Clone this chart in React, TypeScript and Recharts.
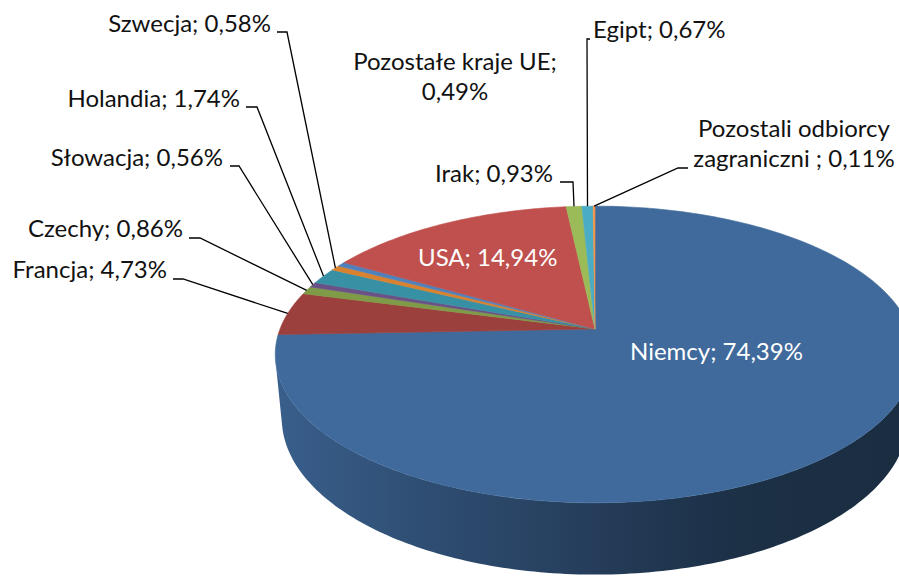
import { PieChart, Pie } from 'recharts';

const countries = [
  'Niemcy', 'Francja', 'Czechy', 'Słowacja', 'Holandia', 'Szwecja',
  'Pozostałe kraje UE', 'USA', 'Irak', 'Egipt', 'Pozostali odbiorcy zagraniczni ',
];
const shares = [74.39, 4.73, 0.86, 0.56, 1.74, 0.58, 0.49, 14.94, 0.93, 0.67, 0.11];
const sliceColors = [
  '#3F6A9B', '#9C403D', '#7F9B48', '#6A5286', '#3890A5', '#D8822F',
  '#4F81BD', '#C0504D', '#9BBB59', '#4BACC6', '#F79646',
];
const labelLines: string[][] = [
  ['Niemcy; 74,39%'],
  ['Francja; 4,73%'],
  ['Czechy; 0,86%'],
  ['Słowacja; 0,56%'],
  ['Holandia; 1,74%'],
  ['Szwecja; 0,58%'],
  ['Pozostałe kraje UE;', '0,49%'],
  ['USA; 14,94%'],
  ['Irak; 0,93%'],
  ['Egipt; 0,67%'],
  ['Pozostali odbiorcy', 'zagraniczni ; 0,11%'],
];

const data = countries.map((name, i) => ({ name, value: shares[i] }));

// fake 3d camera: tilt of the view, distance (in radii) and thickness of the disc
const TILT = (27.2 * Math.PI) / 180;
const DIST = 5.18;
const DEPTH = 0.23;
const SIDE_SHADE: [number, number][] = [[0, 0.9], [0.23, 0.74], [0.5, 0.58], [0.72, 0.45], [1, 0.42]];
const FONT = 'Lato, "Open Sans", sans-serif';
const FONT_SIZE = 24;
const LINE_H = 30;

type Layout = {
  x: number;
  y: number;
  anchor: 'start' | 'middle' | 'end';
  white?: boolean;
  stub?: [number, number, number];
};

const layout: Layout[] = [
  { x: 630, y: 360, anchor: 'start', white: true },
  { x: 167, y: 278, anchor: 'end', stub: [173, 183, 279] },
  { x: 183, y: 237, anchor: 'end', stub: [189, 200, 238] },
  { x: 223, y: 166, anchor: 'end', stub: [230, 239, 166] },
  { x: 240, y: 107, anchor: 'end', stub: [246, 257, 107] },
  { x: 271, y: 32, anchor: 'end', stub: [277, 287, 32] },
  { x: 455, y: 70, anchor: 'middle' },
  { x: 418, y: 266, anchor: 'start', white: true },
  { x: 553, y: 182, anchor: 'end', stub: [560, 573, 182] },
  { x: 593, y: 38, anchor: 'start', stub: [590, 587, 39] },
  { x: 794, y: 137, anchor: 'middle', stub: [688, 678, 168] },
];

const shade = (hex: string, f: number) => {
  const n = parseInt(hex.slice(1), 16);
  const ch = [(n >> 16) & 255, (n >> 8) & 255, n & 255].map(c => Math.round(c * f));
  return `rgb(${ch.join(',')})`;
};

// beta: clockwise degrees from 12 o'clock, r: 0..1, z: 0 top face, negative downwards
function project(cx: number, cy: number, R: number, beta: number, r: number, z: number) {
  const b = (beta * Math.PI) / 180;
  const u = r * Math.sin(b);
  const yb = r * Math.cos(b);
  const s = Math.sin(TILT);
  const c = Math.cos(TILT);
  const depth = DIST + yb * c - z * s;
  const F = R * DIST;
  return [cx + (F * u) / depth, cy - (F * (yb * s + z * c)) / depth];
}

function arcPoints(cx: number, cy: number, R: number, b1: number, b2: number, z: number) {
  const steps = Math.max(2, Math.ceil(Math.abs(b2 - b1)));
  const pts: number[][] = [];
  for (let k = 0; k <= steps; k++) {
    pts.push(project(cx, cy, R, b1 + ((b2 - b1) * k) / steps, 1, z));
  }
  return pts;
}

const toPath = (pts: number[][]) =>
  pts.map((p, i) => `${i ? 'L' : 'M'}${p[0].toFixed(2)},${p[1].toFixed(2)}`).join(' ') + ' Z';

const renderSlice = (props: any) => {
  const { cx, cy, outerRadius, startAngle, endAngle, midAngle, index } = props;
  const R = outerRadius;
  const b1 = 90 - startAngle;
  const b2 = 90 - endAngle;
  const color = sliceColors[index];

  // part of the outer wall that faces the viewer
  const edge = (Math.acos(-1 / (DIST * Math.cos(TILT))) * 180) / Math.PI;
  const lo = Math.max(b1, edge);
  const hi = Math.min(b2, 360 - edge);
  let wall = null;
  if (hi > lo) {
    const topRim = arcPoints(cx, cy, R, lo, hi, 0);
    const bottomRim = arcPoints(cx, cy, R, hi, lo, -DEPTH);
    const gid = `side-${index}`;
    wall = (
      <g>
        <defs>
          <linearGradient id={gid} gradientUnits="userSpaceOnUse" x1={cx - R * 1.02} y1={0} x2={cx + R * 1.02} y2={0}>
            {SIDE_SHADE.map(([o, f]) => (
              <stop key={o} offset={o} stopColor={shade(color, f)} />
            ))}
          </linearGradient>
        </defs>
        <path d={toPath([...topRim, ...bottomRim])} fill={`url(#${gid})`} stroke="none" />
      </g>
    );
  }

  const top = toPath([[cx, cy], ...arcPoints(cx, cy, R, b1, b2, 0)]);

  const lay = layout[index];
  const rim = project(cx, cy, R, 90 - midAngle, 1, 0);
  const lines = labelLines[index];

  return (
    <g key={`slice-${index}`}>
      {wall}
      <path d={top} fill={color} stroke={color} strokeWidth={0.6} />
      {lay.stub && (
        <polyline
          points={`${lay.stub[0]},${lay.stub[2]} ${lay.stub[1]},${lay.stub[2]} ${rim[0].toFixed(1)},${rim[1].toFixed(1)}`}
          fill="none"
          stroke="#000"
          strokeWidth={1.3}
        />
      )}
      <text
        x={lay.x}
        y={lay.y}
        textAnchor={lay.anchor}
        fill={lay.white ? '#fff' : '#111'}
        fontFamily={FONT}
        fontSize={FONT_SIZE}
      >
        {lines.map((t, i) => (
          <tspan key={i} x={lay.x} dy={i ? LINE_H : 0}>{t}</tspan>
        ))}
      </text>
    </g>
  );
};

export default function App() {
  return (
    <div style={{ position: 'absolute', left: 0, top: 0, background: '#fff' }}>
      <PieChart width={899} height={576} margin={{ top: 0, right: 0, bottom: 0, left: 0 }}>
        <Pie
          data={data}
          dataKey="value"
          nameKey="name"
          cx={595}
          cy={329}
          outerRadius={315}
          startAngle={90}
          endAngle={-270}
          fill="transparent"
          stroke="none"
          label={renderSlice}
          labelLine={false}
          isAnimationActive={false}
        />
      </PieChart>
    </div>
  );
}
